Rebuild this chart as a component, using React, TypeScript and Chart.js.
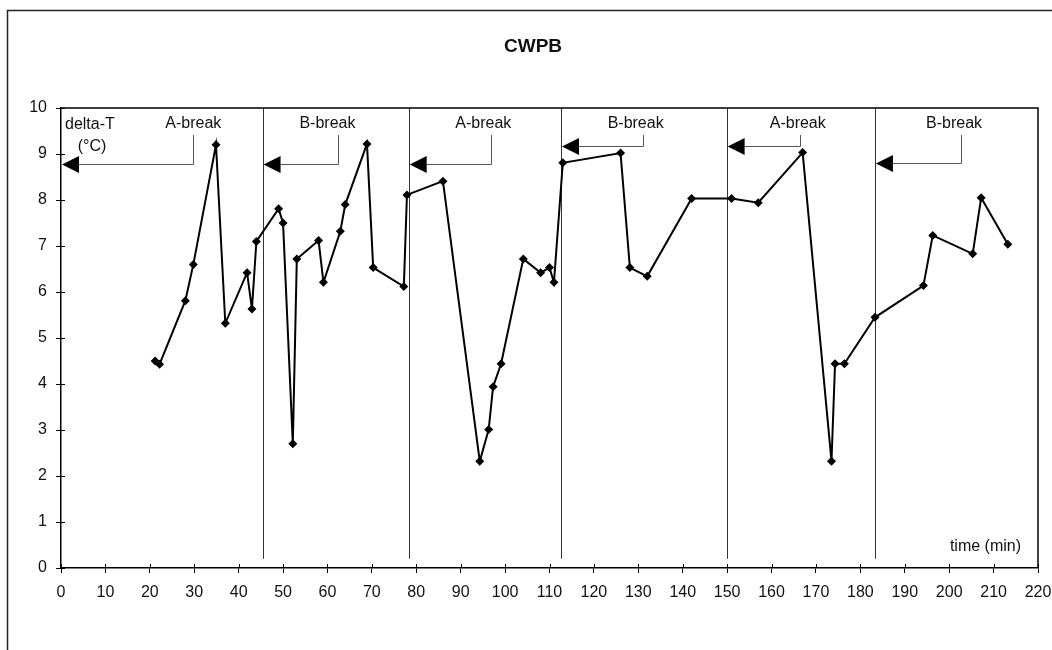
import React, { useEffect, useRef } from "react";
import { Chart, registerables } from "chart.js";

Chart.register(...registerables);

// Measurement times (min)
const times: number[] = [
  21.2, 22.2, 28, 29.8, 34.9, 37, 41.9, 43, 44, 49, 50, 52.2, 53.1, 58, 59.1, 62.9, 64, 68.9, 70.3,
  77.2, 77.9, 86, 94.3, 96.3, 97.3, 99.1, 104.1, 108, 110, 111, 113, 126, 128.1, 132, 142,
  151, 157, 167, 173.5, 174.3, 176.4, 183.3, 194.2, 196.3, 205.3, 207.2, 213.2,
];
// delta-T values (°C)
const deltaT: number[] = [
  4.5, 4.43, 5.81, 6.6, 9.2, 5.32, 6.42, 5.63, 7.1, 7.81, 7.5, 2.7, 6.72, 7.12, 6.21, 7.32, 7.9, 9.22, 6.53,
  6.12, 8.11, 8.41, 2.32, 3.01, 3.94, 4.44, 6.72, 6.42, 6.53, 6.21, 8.81, 9.02, 6.53, 6.34, 8.03,
  8.03, 7.94, 9.03, 2.32, 4.44, 4.44, 5.45, 6.14, 7.23, 6.83, 8.05, 7.04,
];

// Break annotations
const breakStarts: number[] = [0, 45.5, 78.4, 112.7, 150.0, 183.4];
const breakLabels: string[] = ["A-break", "B-break", "A-break", "B-break", "A-break", "B-break"];
const breakLabelAt: number[] = [29.8, 60.0, 95.1, 129.4, 165.9, 201.1];
const breakConnectorAt: number[] = [29.8, 62.4, 96.9, 131.0, 166.4, 202.7];
const breakArrowLevel: number[] = [8.78, 8.78, 8.78, 9.17, 9.17, 8.8];
const breakLineBottom = 0.2;

const xTicksMin = 0;
const xTicksMax = 220;
const xStep = 10;
const yTicksMin = 0;
const yTicksMax = 10;
const yStep = 1;

const titleText = "CWPB";
const yAxisLabel = ["delta-T", "(°C)"];
const xAxisLabel = "time (min)";

const FONT = "'Liberation Sans', Arial, sans-serif";

const annotationPlugin = {
  id: "annotations",
  beforeDatasetsDraw(chart: any) {
    const { ctx, chartArea, scales } = chart;
    const xs = scales.x;
    const ys = scales.y;
    ctx.save();
    // break vertical lines
    ctx.strokeStyle = "#333";
    ctx.lineWidth = 1;
    breakStarts.forEach((b, i) => {
      if (i === 0) return;
      const px = Math.round(xs.getPixelForValue(b)) + 0.5;
      ctx.beginPath();
      ctx.moveTo(px, chartArea.top);
      ctx.lineTo(px, ys.getPixelForValue(breakLineBottom));
      ctx.stroke();
    });
    // arrows, connectors and labels
    breakStarts.forEach((b, i) => {
      const tipX = xs.getPixelForValue(b) + (i === 0 ? 1 : 0.5);
      const ay = Math.round(ys.getPixelForValue(breakArrowLevel[i])) + 0.5;
      const cx = Math.round(xs.getPixelForValue(breakConnectorAt[i])) + 0.5;
      const headW = 17;
      const headH = 8.5;
      ctx.strokeStyle = "#555";
      ctx.lineWidth = 1;
      ctx.beginPath();
      ctx.moveTo(tipX + headW, ay);
      ctx.lineTo(cx, ay);
      ctx.lineTo(cx, chartArea.top + 27);
      ctx.stroke();
      ctx.fillStyle = "#000";
      ctx.beginPath();
      ctx.moveTo(tipX, ay);
      ctx.lineTo(tipX + headW, ay - headH);
      ctx.lineTo(tipX + headW, ay + headH);
      ctx.closePath();
      ctx.fill();
      ctx.font = `16px ${FONT}`;
      ctx.textAlign = "center";
      ctx.textBaseline = "middle";
      ctx.fillStyle = "#111";
      ctx.fillText(breakLabels[i], xs.getPixelForValue(breakLabelAt[i]), chartArea.top + 16);
    });
    // y axis label
    ctx.font = `16px ${FONT}`;
    ctx.textBaseline = "middle";
    ctx.textAlign = "left";
    ctx.fillText(yAxisLabel[0], chartArea.left + 4, chartArea.top + 17);
    ctx.textAlign = "center";
    ctx.fillText(yAxisLabel[1], chartArea.left + 31, chartArea.top + 39);
    // x axis label
    ctx.textAlign = "right";
    ctx.fillText(xAxisLabel, chartArea.right - 17, chartArea.bottom - 21);
    ctx.restore();
  },
  afterDraw(chart: any) {
    const { ctx, chartArea, scales } = chart;
    ctx.save();
    ctx.strokeStyle = "#000";
    ctx.lineWidth = 1.5;
    // top & right plot border
    ctx.beginPath();
    ctx.moveTo(chartArea.left, chartArea.top);
    ctx.lineTo(chartArea.right, chartArea.top);
    ctx.lineTo(chartArea.right, chartArea.bottom);
    ctx.stroke();
    // inner tick parts
    ctx.lineWidth = 1;
    scales.x.ticks.forEach((t: any) => {
      const px = Math.round(scales.x.getPixelForValue(t.value)) + 0.5;
      ctx.beginPath();
      ctx.moveTo(px, chartArea.bottom);
      ctx.lineTo(px, chartArea.bottom - 4);
      ctx.stroke();
    });
    scales.y.ticks.forEach((t: any) => {
      const py = Math.round(scales.y.getPixelForValue(t.value)) + 0.5;
      ctx.beginPath();
      ctx.moveTo(chartArea.left, py);
      ctx.lineTo(chartArea.left + 4, py);
      ctx.stroke();
    });
    // outer frame
    ctx.strokeStyle = "#222";
    ctx.lineWidth = 1.5;
    ctx.beginPath();
    ctx.moveTo(7.5, chart.height);
    ctx.lineTo(7.5, 10.5);
    ctx.lineTo(chart.width, 10.5);
    ctx.stroke();
    // title
    ctx.fillStyle = "#111";
    ctx.font = `bold 19px ${FONT}`;
    ctx.textAlign = "center";
    ctx.textBaseline = "middle";
    ctx.fillText(titleText, 533, 47);
    ctx.restore();
  },
};

export default function App() {
  const canvasRef = useRef<HTMLCanvasElement | null>(null);

  useEffect(() => {
    if (!canvasRef.current) return;
    const data = times.map((t, i) => ({ x: t, y: deltaT[i] }));
    const chart = new Chart(canvasRef.current, {
      type: "scatter",
      data: {
        datasets: [
          {
            data,
            showLine: true,
            borderColor: "#000",
            borderWidth: 2,
            pointStyle: "rectRot",
            pointRadius: 4.5,
            pointBackgroundColor: "#000",
            pointBorderColor: "#000",
            pointBorderWidth: 0,
          },
        ],
      },
      options: {
        responsive: false,
        animation: false,
        events: [],
        layout: { padding: { top: 108, right: 14, left: 0, bottom: 0 } },
        plugins: {
          legend: { display: false },
          tooltip: { enabled: false },
          title: { display: false },
        },
        scales: {
          x: {
            type: "linear",
            min: xTicksMin,
            max: xTicksMax,
            afterFit: (s: any) => {
              s.height = 82;
              s.paddingRight = 0;
              s.paddingLeft = 0;
            },
            ticks: {
              stepSize: xStep,
              color: "#111",
              font: { family: FONT, size: 16 },
              padding: 10,
              maxRotation: 0,
            },
            grid: { drawOnChartArea: false, drawTicks: true, tickLength: 5, color: "#000", lineWidth: 1 },
            border: { display: true, color: "#000", width: 1.5 },
          },
          y: {
            type: "linear",
            min: yTicksMin,
            max: yTicksMax,
            afterFit: (s: any) => {
              s.width = 61;
              s.paddingTop = 0;
              s.paddingBottom = 0;
            },
            ticks: {
              stepSize: yStep,
              color: "#111",
              font: { family: FONT, size: 16 },
              padding: 9,
            },
            grid: { drawOnChartArea: false, drawTicks: true, tickLength: 5, color: "#000", lineWidth: 1 },
            border: { display: true, color: "#000", width: 1.5 },
          },
        },
      },
      plugins: [annotationPlugin],
    });
    return () => chart.destroy();
  }, []);

  return (
    <div style={{ position: "fixed", left: 0, top: 0, width: 1052, height: 650, background: "#fff" }}>
      <canvas ref={canvasRef} width={1052} height={650} style={{ display: "block" }} />
    </div>
  );
}
